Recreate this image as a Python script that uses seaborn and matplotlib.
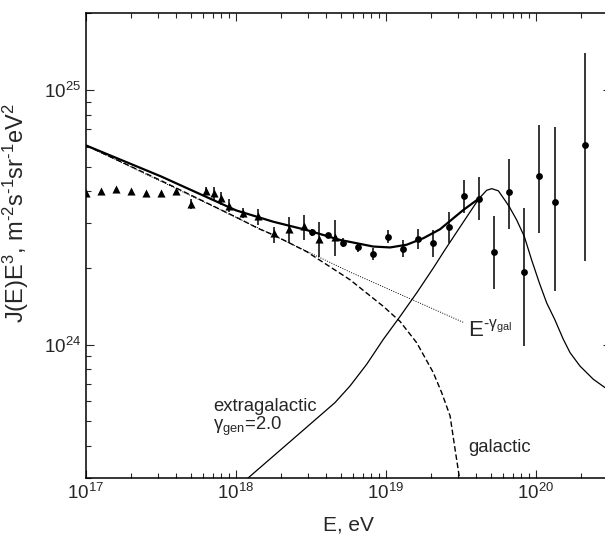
import numpy as np
import pandas as pd
import matplotlib
matplotlib.use('Agg')
import matplotlib.pyplot as plt
import seaborn as sns

# values: log10(E / eV) and J(E)E^3 in units of 1e24
tri_lg_e = [17.0, 17.1, 17.2, 17.3, 17.4, 17.5, 17.6, 17.7, 17.8, 17.853, 17.9,
            17.953, 18.05, 18.15, 18.253, 18.355, 18.455, 18.555, 18.66]
tri_j = [3.93, 4.01, 4.09, 4.01, 3.93, 3.93, 4.01, 3.56, 4.02, 3.94, 3.76,
         3.50, 3.28, 3.20, 2.74, 2.84, 2.93, 2.59, 2.65]
tri_hi = [3.93, 4.01, 4.09, 4.01, 3.93, 3.93, 4.01, 3.72, 4.16, 4.18, 3.98,
          3.72, 3.43, 3.40, 2.91, 3.16, 3.23, 3.04, 3.10]
tri_lo = [3.93, 4.01, 4.09, 4.01, 3.93, 3.93, 4.01, 3.41, 3.87, 3.70, 3.54,
          3.33, 3.14, 2.95, 2.50, 2.52, 2.58, 2.21, 2.23]

circ_lg_e = [18.51, 18.61, 18.715, 18.815, 18.915, 19.015, 19.115, 19.215, 19.315,
             19.42, 19.518, 19.62, 19.72, 19.822, 19.922, 20.022, 20.124, 20.324]
circ_j = [2.76, 2.69, 2.52, 2.41, 2.28, 2.65, 2.38, 2.59, 2.50,
          2.90, 3.83, 3.75, 2.31, 3.96, 1.93, 4.58, 3.64, 6.10]
circ_hi = [2.84, 2.75, 2.62, 2.50, 2.39, 2.82, 2.58, 2.84, 2.82,
           3.33, 4.45, 4.56, 3.20, 5.38, 3.43, 7.32, 7.14, 14.0]
circ_lo = [2.68, 2.62, 2.43, 2.32, 2.16, 2.50, 2.21, 2.37, 2.22,
           2.52, 3.28, 3.09, 1.65, 2.86, 0.99, 2.74, 1.62, 2.13]

# model curves
total_lg_e = [17.0, 17.5, 18.0, 18.249, 18.471, 18.693, 18.915, 19.027, 19.138,
              19.249, 19.36, 19.515, 19.62]
total_j = [6.06, 4.58, 3.37, 3.04, 2.82, 2.58, 2.43, 2.41, 2.47,
           2.62, 2.84, 3.38, 3.75]

gal_lg_e = [17.0, 17.5, 18.0, 18.149, 18.249, 18.471, 18.76, 18.982, 19.093,
            19.205, 19.315, 19.371, 19.427, 19.46, 19.489, 19.51]
gal_j = [6.06, 4.41, 3.17, 2.86, 2.70, 2.32, 1.80, 1.415, 1.236,
         1.018, 0.778, 0.649, 0.526, 0.390, 0.302, 0.249]

pl_lg_e = [17.0, 18.76, 19.515]
pl_j = [6.06, 1.93, 1.225]

eg_lg_e = [18.0, 18.089, 18.373, 18.66, 18.76, 18.871, 18.982, 19.093, 19.205,
           19.315, 19.393, 19.507, 19.62, 19.671, 19.705, 19.749, 19.793, 19.822,
           19.871, 19.922, 19.971, 20.022, 20.071, 20.125, 20.182, 20.227, 20.293,
           20.382, 20.46, 20.52]
eg_j = [0.273, 0.303, 0.423, 0.593, 0.689, 0.838, 1.05, 1.29, 1.60,
        2.0, 2.36, 2.98, 3.75, 4.04, 4.10, 4.02, 3.69, 3.48,
        3.09, 2.66, 2.15, 1.75, 1.46, 1.256, 1.05, 0.931, 0.825,
        0.732, 0.679, 0.65]

UNIT = 1e24
HY = '\u2010'  # plain hyphen, as in the original label


def frame(lg_e, j):
    return pd.DataFrame({'E': 10.0 ** np.array(lg_e), 'J': np.array(j) * UNIT})


sns.set_theme(style='ticks')
plt.rcParams['font.family'] = ['Liberation Sans', 'DejaVu Sans']
plt.rcParams['mathtext.fontset'] = 'custom'
plt.rcParams['mathtext.rm'] = 'Liberation Sans'
plt.rcParams['mathtext.it'] = 'Liberation Sans:italic'
plt.rcParams['mathtext.default'] = 'regular'

fig = plt.figure(figsize=(6.05, 5.36), dpi=100)
ax = fig.add_axes([0.1421, 0.1082, 0.8678, 0.867])
ax.set_xscale('log')
ax.set_yscale('log')

sns.lineplot(data=frame(total_lg_e, total_j), x='E', y='J', ax=ax, color='black',
             lw=1.6, estimator=None, sort=False)
sns.lineplot(data=frame(gal_lg_e, gal_j), x='E', y='J', ax=ax, color='black',
             lw=1.0, ls=(0, (4, 2)), estimator=None, sort=False)
sns.lineplot(data=frame(pl_lg_e, pl_j), x='E', y='J', ax=ax, color='black',
             lw=0.7, ls=(0, (1, 1.5)), estimator=None, sort=False)
sns.lineplot(data=frame(eg_lg_e, eg_j), x='E', y='J', ax=ax, color='black',
             lw=0.9, estimator=None, sort=False)

tri = frame(tri_lg_e, tri_j)
circ = frame(circ_lg_e, circ_j)
ax.errorbar(tri['E'], tri['J'],
            yerr=[tri['J'] - np.array(tri_lo) * UNIT, np.array(tri_hi) * UNIT - tri['J']],
            fmt='none', ecolor='black', elinewidth=1.1, capsize=0)
ax.errorbar(circ['E'], circ['J'],
            yerr=[circ['J'] - np.array(circ_lo) * UNIT, np.array(circ_hi) * UNIT - circ['J']],
            fmt='none', ecolor='black', elinewidth=1.1, capsize=0)
sns.scatterplot(data=tri, x='E', y='J', ax=ax, marker='^', s=34, color='black',
                edgecolor='black', linewidth=0, zorder=3)
sns.scatterplot(data=circ, x='E', y='J', ax=ax, marker='o', s=24, color='black',
                edgecolor='black', linewidth=0, zorder=3)

ax.set_xlim(1e17, 3.16e20)
ax.set_ylim(3e23, 2e25)

ax.text(7.0e17, 5.75e23, 'extragalactic', fontsize=13.3, ha='left', va='center')
ax.text(7.0e17, 4.8e23, r'$\mathrm{γ}_{\mathrm{gen}}$=2.0', fontsize=13.3, ha='left', va='center')
ax.text(3.54e19, 3.96e23, 'galactic', fontsize=13.3, ha='left', va='center')
ax.text(3.52e19, 1.077e24, r'E$^{' + HY + r'\mathrm{γ}_{\mathrm{gal}}}$', fontsize=16,
        ha='left', va='baseline')

ax.set_xlabel('E, eV', fontsize=15, labelpad=9)
ax.set_ylabel(r'J(E)E$^3$, m$^{' + HY + r'2}$s$^{' + HY + r'1}$sr$^{' + HY + r'1}$eV$^2$',
              fontsize=17)
ax.yaxis.set_label_coords(-0.104, 0.57)

ax.tick_params(which='both', direction='in', top=True, right=True, labelsize=13.5)
ax.tick_params(which='major', length=6, width=0.8)
ax.tick_params(which='minor', length=3.5, width=0.8)
for sp in ax.spines.values():
    sp.set_linewidth(1.1)
    sp.set_color('black')

fig.savefig('out.png', dpi=100)
